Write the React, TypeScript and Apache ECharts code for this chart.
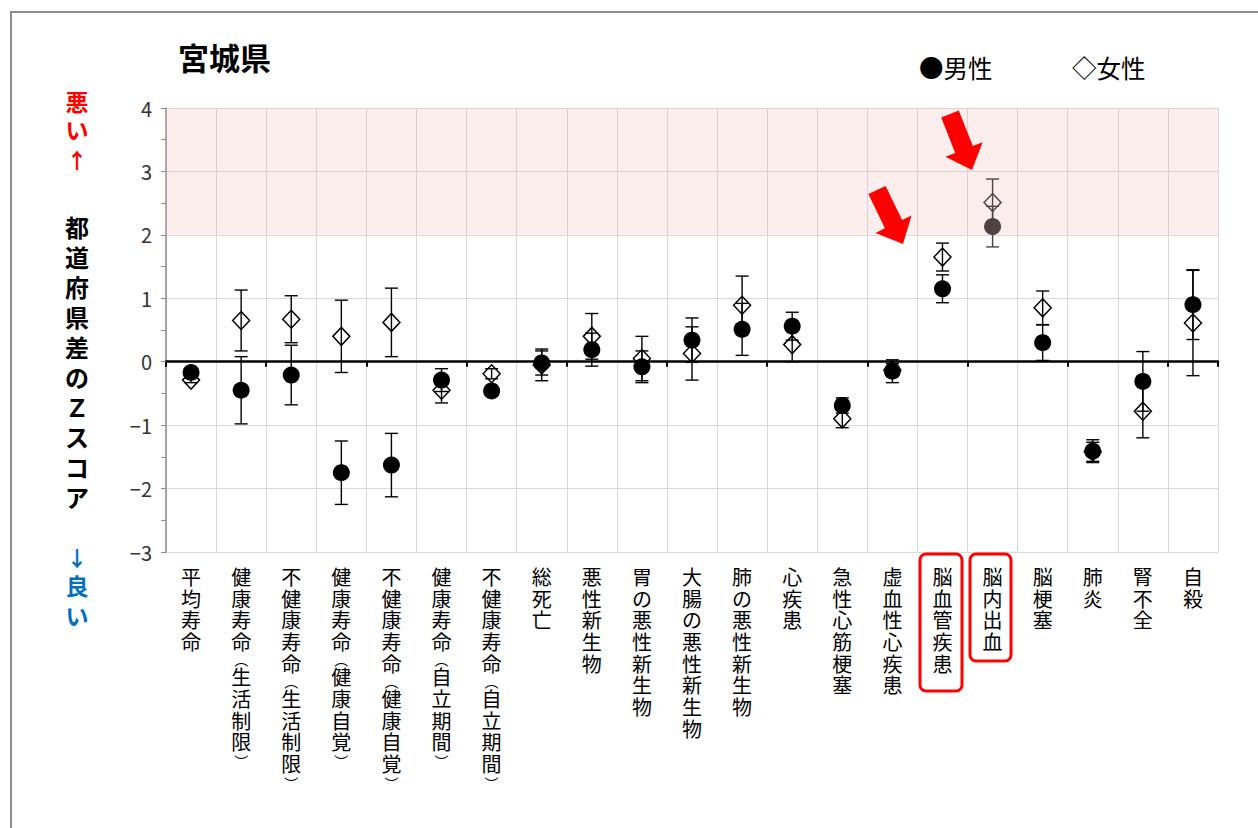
import React, { useEffect, useRef } from 'react';
import * as echarts from 'echarts';

const categories = [
  '平均寿命', '健康寿命(生活制限)', '不健康寿命(生活制限)', '健康寿命(健康自覚)', '不健康寿命(健康自覚)',
  '健康寿命(自立期間)', '不健康寿命(自立期間)', '総死亡', '悪性新生物', '胃の悪性新生物',
  '大腸の悪性新生物', '肺の悪性新生物', '心疾患', '急性心筋梗塞', '虚血性心疾患',
  '脳血管疾患', '脳内出血', '脳梗塞', '肺炎', '腎不全', '自殺',
];
const maleValues = [-0.17, -0.45, -0.21, -1.75, -1.63, -0.29, -0.46, -0.02, 0.19, -0.08, 0.34, 0.51, 0.56, -0.69, -0.15, 1.15, 2.13, 0.30, -1.41, -0.31, 0.90];
const maleErr = [0.03, 0.53, 0.47, 0.50, 0.50, 0.18, 0.05, 0.19, 0.26, 0.25, 0.35, 0.41, 0.22, 0.12, 0.18, 0.22, 0.32, 0.28, 0.18, 0.47, 0.55];
const femaleValues = [-0.29, 0.65, 0.67, 0.40, 0.62, -0.45, -0.19, -0.05, 0.40, 0.05, 0.13, 0.89, 0.27, -0.90, -0.13, 1.65, 2.51, 0.85, -1.42, -0.78, 0.61];
const femaleErr = [0.04, 0.48, 0.37, 0.57, 0.54, 0.20, 0.08, 0.25, 0.36, 0.35, 0.42, 0.46, 0.27, 0.14, 0.10, 0.22, 0.37, 0.265, 0.15, 0.42, 0.83];
const highlightIndex = 16;
const yMin = -3;
const yMax = 4;
const title = '宮城県';
const maleLegend = '●男性';
const femaleLegend = '◇女性';
const axisTitle = '都道府県差のＺスコア';
const badLabel = ['悪', 'い', '↑'];
const goodLabel = ['↓', '良', 'い'];

const FONT = '"Noto Sans CJK JP", "Noto Sans", sans-serif';
const FONT_V = '"Liberation Sans", "Noto Sans CJK JP", sans-serif';

function errRender(values: number[], errs: number[], baseColor: string) {
  return (params: any, api: any) => {
    const i = params.dataIndex;
    const v = values[i];
    const e = errs[i];
    const lo = api.coord([i, v - e]);
    const hi = api.coord([i, v + e]);
    const cap = 6.5;
    const color = i === highlightIndex ? '#4d4444' : baseColor;
    const style = { stroke: color, lineWidth: 1.4 };
    return {
      type: 'group',
      children: [
        { type: 'line', shape: { x1: lo[0], y1: lo[1], x2: hi[0], y2: hi[1] }, style },
        { type: 'line', shape: { x1: lo[0] - cap, y1: lo[1], x2: lo[0] + cap, y2: lo[1] }, style },
        { type: 'line', shape: { x1: hi[0] - cap, y1: hi[1], x2: hi[0] + cap, y2: hi[1] }, style },
      ],
    };
  };
}

function vertical(s: string) {
  return s
    .split('')
    .map((c) => (c === '(' ? '{p|︵}' : c === ')' ? '{q|︶}' : c))
    .join('\n');
}

function arrowText(chars: string[]) {
  return chars.map((c) => (c === '↑' || c === '↓' ? '{a|' + c + '}' : c)).join('\n');
}

export default function App() {
  const ref = useRef<HTMLDivElement>(null);
  useEffect(() => {
    if (!ref.current) return;
    const chart = echarts.init(ref.current, null, { renderer: 'svg' });
    const option: any = {
      animation: false,
      backgroundColor: '#ffffff',
      textStyle: { fontFamily: FONT },
      grid: { left: 166, top: 108, width: 1052, height: 444, containLabel: false },
      xAxis: [
        {
          type: 'category',
          data: categories,
          position: 'bottom',
          axisLine: { show: false, onZero: false },
          axisTick: { show: false },
          splitLine: { show: true, interval: 0, lineStyle: { color: '#d9d9d9', width: 1 } },
          axisLabel: {
            interval: 0,
            margin: 15,
            fontSize: 20,
            lineHeight: 21.7,
            color: '#000000',
            fontFamily: FONT_V,
            formatter: (v: string) => vertical(v),
            rich: {
              p: { fontSize: 14, lineHeight: 13.5, color: '#000000', fontFamily: FONT_V, padding: [2, 0, 3, 0] },
              q: { fontSize: 14, lineHeight: 13.5, color: '#000000', fontFamily: FONT_V, padding: [4, 0, 1, 0] },
            },
          },
        },
        {
          type: 'category',
          data: categories,
          position: 'bottom',
          axisLine: { show: true, onZero: true, lineStyle: { color: '#000000', width: 2.5 } },
          axisTick: { show: true, interval: 1, length: 5, lineStyle: { color: '#000000', width: 2 } },
          axisLabel: { show: false },
          splitLine: { show: false },
        },
      ],
      yAxis: {
        type: 'value',
        min: yMin,
        max: yMax,
        interval: 1,
        axisLine: { show: true, lineStyle: { color: '#8c8c8c', width: 1.5 } },
        axisTick: { show: true, length: 5, lineStyle: { color: '#8c8c8c' } },
        minorTick: { show: true, splitNumber: 2, length: 5, lineStyle: { color: '#8c8c8c' } },
        splitLine: { show: true, lineStyle: { color: '#d9d9d9', width: 1 } },
        axisLabel: {
          fontSize: 20,
          color: '#333333',
          margin: 14,
          fontFamily: FONT,
          formatter: (v: number) => String(v).replace('-', '−'),
        },
      },
      series: [
        {
          type: 'custom',
          name: '男性誤差',
          xAxisIndex: 0,
          z: 3,
          silent: true,
          renderItem: errRender(maleValues, maleErr, '#000000'),
          data: maleValues.map((v, i) => [i, v]),
          markArea: {
            silent: true,
            z: 1,
            itemStyle: { color: 'rgba(247,170,170,0.2)' },
            data: [[{ yAxis: 2 }, { yAxis: 4 }]],
          },
        },
        {
          type: 'scatter',
          name: '男性',
          xAxisIndex: 0,
          z: 4,
          symbol: 'circle',
          symbolSize: 17,
          itemStyle: { color: '#000000', opacity: 1 },
          data: maleValues.map((v, i) =>
            i === highlightIndex ? { value: v, itemStyle: { color: '#4d4343' } } : v
          ),
        },
        {
          type: 'custom',
          name: '女性誤差',
          xAxisIndex: 0,
          z: 5,
          silent: true,
          renderItem: errRender(femaleValues, femaleErr, '#000000'),
          data: femaleValues.map((v, i) => [i, v]),
        },
        {
          type: 'scatter',
          name: '女性',
          xAxisIndex: 0,
          z: 6,
          symbol: 'diamond',
          symbolSize: [17, 18],
          itemStyle: { color: 'rgba(255,255,255,0)', borderColor: '#000000', borderWidth: 1.5, opacity: 1 },
          data: femaleValues.map((v, i) =>
            i === highlightIndex ? { value: v, itemStyle: { borderColor: '#4d4343' } } : v
          ),
        },
      ],
      graphic: [
        {
          type: 'rect',
          shape: { x: 11, y: 12, width: 1400, height: 1000 },
          style: { fill: 'none', stroke: '#8c8c8c', lineWidth: 2 },
          silent: true,
        },
        {
          type: 'text',
          x: 178,
          y: 56,
          style: { text: title, fontSize: 31, fontWeight: 'bold', fill: '#000000', fontFamily: FONT, textVerticalAlign: 'middle' },
        },
        {
          type: 'text',
          x: 919,
          y: 67,
          style: { text: maleLegend, fontSize: 24.5, fill: '#000000', fontFamily: FONT, textVerticalAlign: 'middle' },
        },
        {
          type: 'text',
          x: 1072,
          y: 67,
          style: { text: femaleLegend, fontSize: 24.5, fill: '#000000', fontFamily: FONT, textVerticalAlign: 'middle' },
        },
        {
          type: 'text',
          x: 77,
          y: 89,
          style: {
            text: arrowText(badLabel),
            fontSize: 23,
            lineHeight: 28,
            fontWeight: 'bold',
            fill: '#ff0000',
            fontFamily: FONT_V,
            textAlign: 'center',
            textVerticalAlign: 'top',
            rich: {
              a: { fontSize: 21, lineHeight: 28, fontFamily: FONT, fill: '#ff0000', fontWeight: 'bold' },
            },
          },
        },
        {
          type: 'text',
          x: 77,
          y: 213,
          style: {
            text: axisTitle.split('').join('\n'),
            fontSize: 24,
            lineHeight: 30,
            fontWeight: 'bold',
            fill: '#000000',
            fontFamily: FONT_V,
            textAlign: 'center',
            textVerticalAlign: 'top',
          },
        },
        {
          type: 'text',
          x: 77,
          y: 542,
          style: {
            text: arrowText(goodLabel),
            fontSize: 23,
            lineHeight: 30,
            fontWeight: 'bold',
            fill: '#0070c0',
            fontFamily: FONT_V,
            textAlign: 'center',
            textVerticalAlign: 'top',
            rich: {
              a: { fontSize: 21, lineHeight: 30, fontFamily: FONT, fill: '#0070c0', fontWeight: 'bold' },
            },
          },
        },
        {
          type: 'polygon',
          z: 100,
          shape: {
            points: [
              [885.6, 185.9], [902.1, 220.1], [911.5, 215.5], [903, 244],
              [875.5, 232.9], [884.9, 228.3], [868.4, 194.1],
            ],
          },
          style: { fill: '#ff0000' },
        },
        {
          type: 'polygon',
          z: 100,
          shape: {
            points: [
              [958.8, 110.5], [972.8, 146.0], [982.6, 142.2], [972, 170],
              [945.4, 156.8], [955.2, 153.0], [941.2, 117.5],
            ],
          },
          style: { fill: '#ff0000' },
        },
        {
          type: 'rect',
          z: 100,
          shape: { x: 920, y: 554, width: 42, height: 137, r: 6 },
          style: { fill: 'none', stroke: '#ff0000', lineWidth: 3 },
        },
        {
          type: 'rect',
          z: 100,
          shape: { x: 970, y: 554, width: 41, height: 107, r: 6 },
          style: { fill: 'none', stroke: '#ff0000', lineWidth: 3 },
        },
      ],
    };
    chart.setOption(option);
    return () => chart.dispose();
  }, []);
  return (
    <div
      ref={ref}
      style={{ position: 'fixed', left: 0, top: 0, width: 1258, height: 828, background: '#fff' }}
    />
  );
}
